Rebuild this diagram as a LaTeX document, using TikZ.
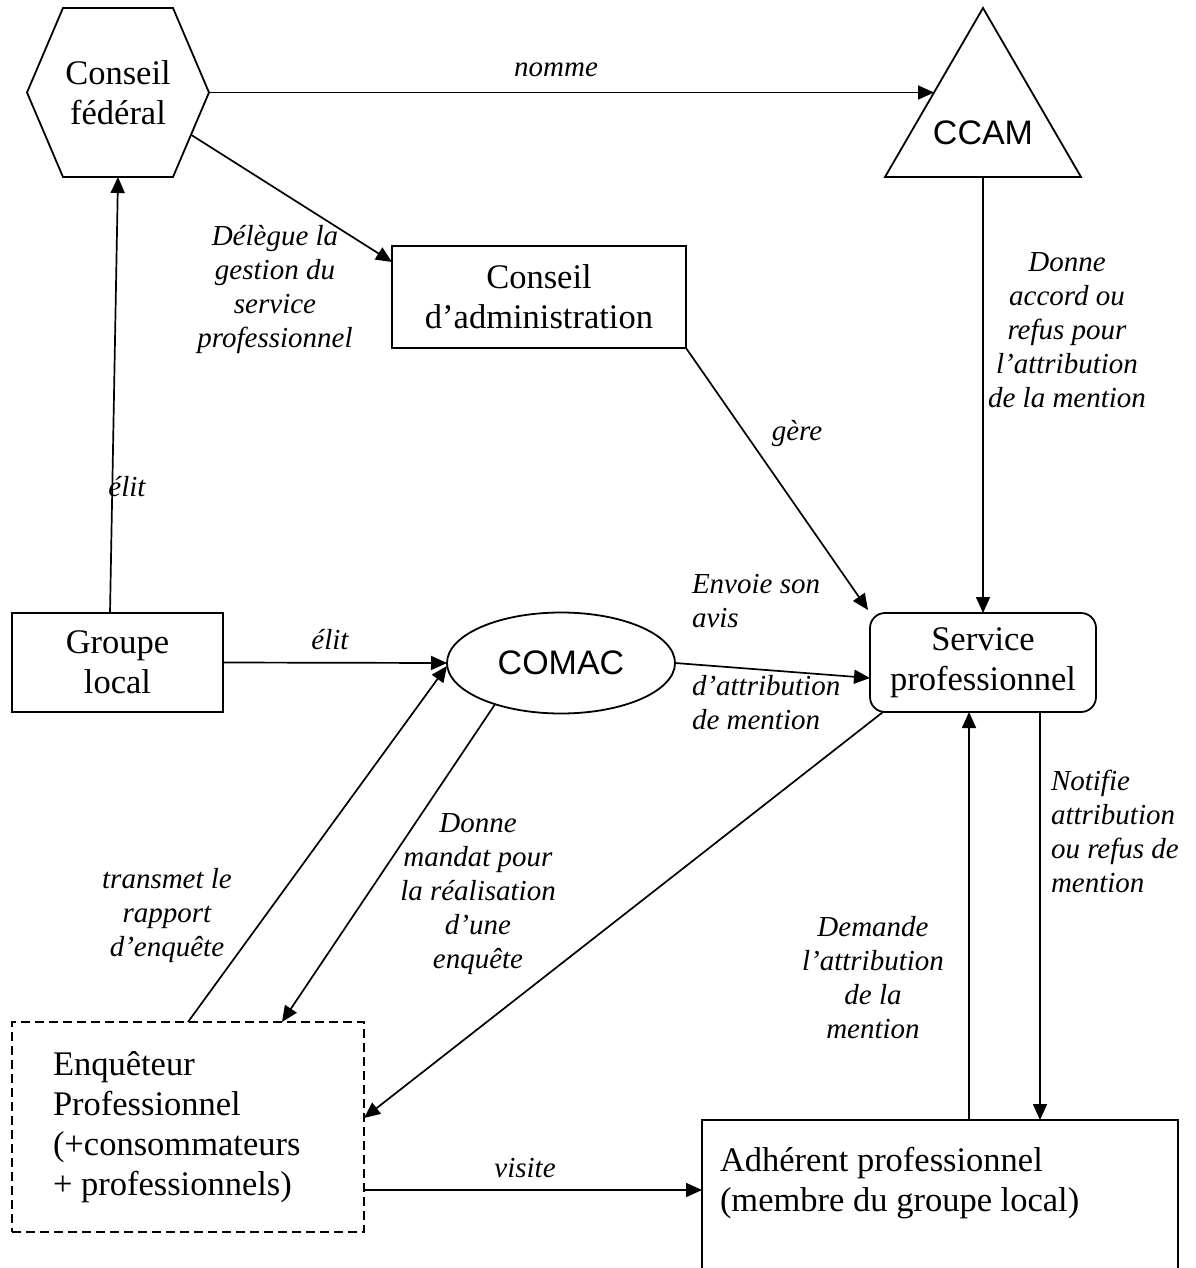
\documentclass[tikz,border=0pt]{standalone}
\usepackage{fontspec}
\setmainfont{Liberation Serif}
\newfontfamily\arialfont{Liberation Sans}
\usetikzlibrary{arrows.meta,shapes.geometric,calc}
\begin{document}
\begin{tikzpicture}[x=1pt,y=-1pt,
  every node/.style={inner sep=0pt,outer sep=0pt},
  shapeline/.style={line width=1.8pt},
  boxnode/.style={draw,line width=1.8pt,rectangle,font=\fontsize{34.5}{40}\selectfont,align=center},
  txt/.style={font=\fontsize{34.5}{40}\selectfont,align=center},
  sanstxt/.style={font=\arialfont\fontsize{34}{40}\selectfont},
  lbl/.style={font=\fontsize{29}{34}\selectfont\itshape,align=center},
  arr/.style={-{Triangle[length=16pt,width=14pt]},line width=1.7pt},
  dashbox/.style={draw,line width=1.8pt,dash pattern=on 9pt off 5pt}]
\useasboundingbox (0,0) rectangle (1195,1268);
\clip (0,0) rectangle (1195,1268);
\fill[white] (0,0) rectangle (1195,1268);

% --- nodes ---
\node[txt,minimum width=182pt,minimum height=169pt] (cf) at (118,92.5) {Conseil\\fédéral};
\draw[shapeline] (cf.west) -- ([xshift=36pt]cf.north west) -- ([xshift=-36pt]cf.north east)
  -- (cf.east) -- ([xshift=-36pt]cf.south east) -- ([xshift=36pt]cf.south west) -- cycle;

\node[minimum width=196pt,minimum height=169pt] (ccam) at (983,92.5) {};
\draw[shapeline] (ccam.north) -- (ccam.south east) -- (ccam.south west) -- cycle;
\node[sanstxt] (ccamtxt) at (983,133) {CCAM};

\node[boxnode,minimum width=294pt,minimum height=102pt] (ca) at (539,297) {Conseil\\d’administration};
\node[boxnode,minimum width=211pt,minimum height=99pt] (gl) at (117.5,662.5) {Groupe\\local};
\node[draw,ellipse,shapeline,sanstxt,minimum width=228pt,minimum height=101pt] (comac) at (561,663) {COMAC};
\node[boxnode,rounded corners=15pt,minimum width=226pt,minimum height=99pt] (sp) at (983,662.5) {Service\\professionnel};

\node[dashbox,minimum width=352pt,minimum height=210pt] (enq) at (188,1127) {};
\node[txt,align=left,anchor=west] (enqtxt) at (53,1127) {Enquêteur\\Professionnel\\(+consommateurs\\+ professionnels)};

\node[draw,line width=1.8pt,minimum width=476pt,minimum height=180pt] (adh) at (940,1210) {};
\node[txt,align=left,anchor=west] (adhtxt) at (720,1183) {Adhérent professionnel\\(membre du groupe local)};

% --- connectors ---
\draw[arr] ([xshift=-7.5pt]gl.north) -- (cf.south);
\draw[arr] (gl.east) -- (comac.west);
\draw[arr] (cf.east) -- ($(ccam.north)!0.5!(ccam.south west)$);
\draw[arr] ($(cf.east)!0.5!([xshift=-36pt]cf.south east)$) -- ([yshift=-16pt]ca.north west);
\draw[arr] (ca.south east) -- ([xshift=-2pt,yshift=3pt]sp.north west);
\draw[arr] (ccam.south) -- (sp.north);
\draw[arr] (comac.east) -- ([yshift=-15.5pt]sp.west);
\draw[arr] (comac.212) -- ([xshift=94pt]enq.north);
\draw[arr] (enq.north) -- ([yshift=-3pt]comac.west);
\draw[arr] ([xshift=13pt]sp.south west) -- ([yshift=9pt]enq.east);
\draw[arr] ([xshift=57pt]sp.south) -- ([xshift=57pt]sp.south |- adh.north);
\draw[arr] ([xshift=-14pt]sp.south |- adh.north) -- ([xshift=-14pt]sp.south);
\draw[arr] ([yshift=-63pt]enq.east) -- ([yshift=-63pt]enq.east -| adh.west);

% --- labels ---
\node[lbl] (lnomme) at (556,70) {nomme};
\node[lbl] (ldel) at (275,290) {Délègue la\\gestion du\\service\\professionnel};
\node[lbl] (lgere) at (797,434) {gère};
\node[lbl] (laccord) at (1067,330) {Donne\\accord ou\\refus pour\\l’attribution\\de la mention};
\node[lbl] (lelitv) at (127,487) {élit};
\node[lbl] (lelith) at (330,640) {élit};
\node[lbl,align=left,anchor=west] (lenv) at (692,601.5) {Envoie son\\avis};
\node[lbl,align=left,anchor=west] (lattr) at (692,702.5) {d’attribution\\de mention};
\node[lbl] (lmandat) at (478,894.5) {Donne\\mandat pour\\la réalisation\\d’une\\enquête};
\node[lbl] (ltrans) at (167,916) {transmet le\\rapport\\d’enquête};
\node[lbl,align=left,anchor=west] (lnotif) at (1051,831) {Notifie\\attribution\\ou refus de\\mention};
\node[lbl] (ldem) at (873,978) {Demande\\l’attribution\\de la\\mention};
\node[lbl] (lvisite) at (525,1168) {visite};
\end{tikzpicture}
\end{document}
